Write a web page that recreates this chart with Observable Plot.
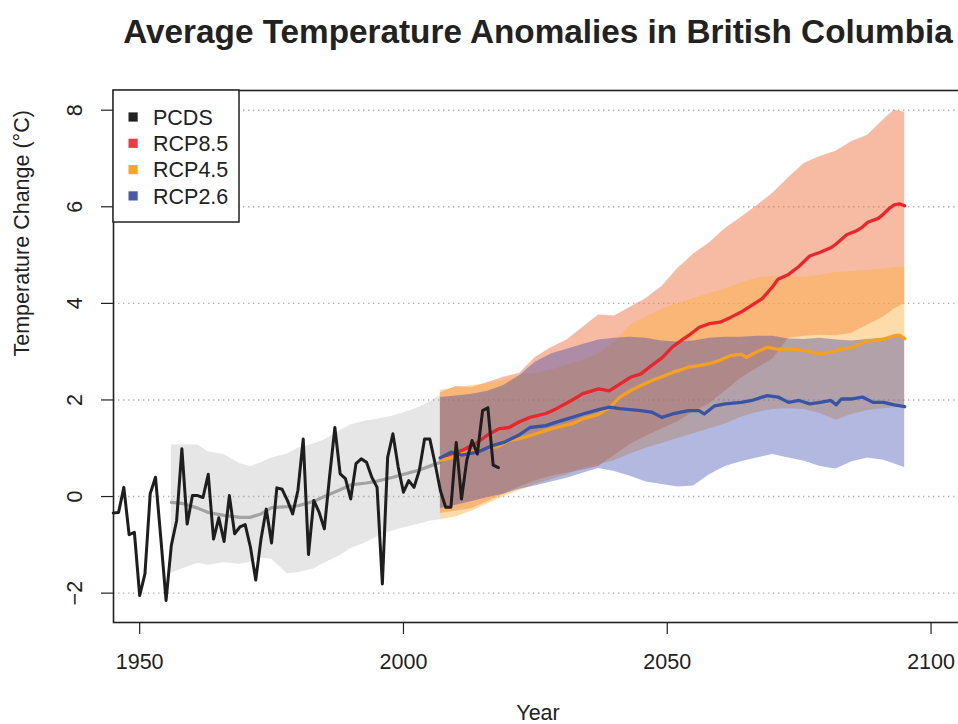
<!DOCTYPE html>
<html><head><meta charset="utf-8">
<script src="https://cdn.jsdelivr.net/npm/d3@7"></script>
<script src="https://cdn.jsdelivr.net/npm/@observablehq/plot@0.6"></script>
<style>
html,body{margin:0;padding:0;background:#fff;overflow:hidden;width:958px;height:724px;}
#chart svg{display:block;max-width:none !important;}
</style></head><body><div id="chart"></div>
<script>
// ---------- data ----------
const xTicks = [1950, 2000, 2050, 2100];
const yTicks = [-2, 0, 2, 4, 6, 8];

const pcdsYears = [1945,1946,1947,1948,1949,1950,1951,1952,1953,1954,1955,1956,1957,1958,1959,1960,1961,1962,1963,1964,1965,1966,1967,1968,1969,1970,1971,1972,1973,1974,1975,1976,1977,1978,1979,1980,1981,1982,1983,1984,1985,1986,1987,1988,1989,1990,1991,1992,1993,1994,1995,1996,1997,1998,1999,2000,2001,2002,2003,2004,2005,2006,2007,2008,2009,2010,2011,2012,2013,2014,2015,2016,2017,2018];
const pcdsValues = [-0.34,-0.33,0.19,-0.79,-0.74,-2.05,-1.60,0.06,0.40,-0.85,-2.15,-1.01,-0.50,0.99,-0.57,0.02,0.02,-0.02,0.46,-0.88,-0.44,-0.93,0.02,-0.77,-0.63,-0.58,-1.05,-1.73,-0.88,-0.26,-0.96,0.18,0.15,-0.08,-0.36,0.13,1.19,-1.20,-0.08,-0.32,-0.67,0.42,1.43,0.47,0.37,-0.05,0.68,0.78,0.71,0.40,0.19,-1.81,0.81,1.30,0.61,0.09,0.33,0.19,0.54,1.19,1.19,0.68,0.12,-0.22,-0.22,1.12,-0.05,0.75,1.16,0.88,1.78,1.84,0.65,0.60];

const histYears = [1956,1958,1961,1963,1966,1969,1971,1973,1975,1978,1980,1983,1985,1988,1990,1993,1995,1998,2000,2003,2005,2007];
const histUpper = [1.07,1.07,1.07,0.93,0.87,0.68,0.62,0.70,0.80,0.88,1.00,1.09,1.17,1.36,1.48,1.57,1.60,1.67,1.73,1.85,1.96,2.09];
const histLower = [-1.59,-1.50,-1.38,-1.42,-1.37,-1.40,-1.36,-1.28,-1.30,-1.60,-1.58,-1.50,-1.38,-1.22,-1.08,-0.95,-0.84,-0.71,-0.65,-0.57,-0.51,-0.48];
const histMean = [-0.12,-0.14,-0.24,-0.33,-0.39,-0.43,-0.43,-0.36,-0.23,-0.21,-0.19,-0.10,0.00,0.14,0.24,0.28,0.32,0.40,0.46,0.55,0.63,0.71];

const bandYears = [2007,2010,2013,2016,2019,2022,2025,2028,2031,2034,2037,2040,2043,2046,2049,2052,2055,2058,2061,2064,2067,2070,2073,2076,2079,2082,2085,2088,2091,2093,2095];
const rcp85Upper = [2.15,2.28,2.26,2.36,2.47,2.55,2.88,3.08,3.24,3.50,3.76,3.74,3.92,4.10,4.35,4.72,5.02,5.25,5.55,5.78,6.02,6.28,6.60,6.90,7.04,7.15,7.35,7.48,7.80,8.00,7.96];
const rcp85Lower = [-0.35,-0.30,-0.25,-0.10,0.05,0.20,0.32,0.42,0.48,0.55,0.62,0.85,1.08,1.25,1.40,1.55,1.75,1.92,2.18,2.45,2.65,2.85,3.28,3.32,3.34,3.33,3.38,3.55,3.72,3.88,4.00];
const rcp45Upper = [2.20,2.25,2.30,2.33,2.40,2.50,2.55,2.62,2.72,2.82,2.95,3.20,3.55,3.72,3.88,4.00,4.10,4.20,4.30,4.42,4.52,4.55,4.55,4.54,4.58,4.64,4.66,4.68,4.71,4.74,4.75];
const rcp45Lower = [-0.48,-0.42,-0.30,-0.15,0.00,0.12,0.25,0.35,0.45,0.58,0.66,0.74,0.88,1.00,1.10,1.20,1.30,1.40,1.50,1.64,1.74,1.80,1.82,1.80,1.72,1.58,1.70,1.78,1.82,1.84,1.85];
const rcp26Upper = [2.05,2.08,2.12,2.18,2.30,2.50,2.78,2.95,3.05,3.15,3.24,3.28,3.30,3.28,3.22,3.20,3.22,3.28,3.30,3.30,3.32,3.32,3.26,3.25,3.28,3.24,3.22,3.25,3.28,3.30,3.30];
const rcp26Lower = [-0.25,-0.18,-0.10,-0.02,0.05,0.15,0.22,0.30,0.38,0.48,0.58,0.52,0.42,0.30,0.25,0.20,0.22,0.45,0.62,0.72,0.80,0.87,0.80,0.73,0.62,0.57,0.72,0.80,0.75,0.68,0.60];

const rcp85Years = [2007,2009,2011,2014,2016,2018,2020,2022,2024,2027,2029,2032,2034,2037,2039,2041,2043,2045,2047,2049,2051,2053,2054,2056,2058,2060,2062,2064,2066,2068,2070,2071,2073,2075,2077,2079,2081,2082,2084,2086,2087,2088,2090,2091,2092,2093,2094,2095];
const rcp85Mean = [0.80,0.88,0.95,1.12,1.28,1.40,1.43,1.55,1.64,1.72,1.82,2.00,2.13,2.23,2.19,2.33,2.47,2.54,2.71,2.87,3.10,3.26,3.33,3.50,3.58,3.61,3.71,3.82,3.96,4.10,4.35,4.50,4.60,4.77,4.98,5.06,5.15,5.23,5.42,5.51,5.58,5.68,5.76,5.85,5.96,6.04,6.06,6.02];
const rcp45Years = [2007,2009,2011,2014,2016,2018,2020,2022,2024,2027,2029,2032,2034,2037,2039,2041,2043,2045,2047,2049,2051,2053,2054,2056,2058,2060,2062,2064,2065,2067,2069,2071,2073,2076,2079,2082,2085,2088,2091,2093,2094,2095];
const rcp45Mean = [0.75,0.80,0.88,0.95,1.00,1.04,1.16,1.20,1.26,1.37,1.43,1.51,1.61,1.70,1.84,2.06,2.19,2.30,2.40,2.48,2.57,2.64,2.68,2.71,2.75,2.82,2.92,2.95,2.88,3.00,3.09,3.05,3.06,3.02,2.95,3.02,3.09,3.22,3.26,3.33,3.34,3.27];
const rcp26Years = [2007,2009,2011,2014,2017,2019,2022,2024,2027,2029,2032,2034,2037,2039,2041,2045,2047,2049,2051,2054,2056,2057,2059,2061,2064,2066,2068,2069,2071,2073,2075,2077,2079,2081,2082,2083,2085,2087,2089,2091,2093,2095];
const rcp26Mean = [0.80,0.92,0.86,0.92,1.06,1.12,1.28,1.43,1.47,1.54,1.64,1.71,1.80,1.85,1.82,1.78,1.75,1.64,1.71,1.78,1.78,1.71,1.88,1.92,1.95,1.99,2.06,2.09,2.06,1.95,1.99,1.92,1.95,1.99,1.90,2.02,2.02,2.06,1.95,1.95,1.90,1.86];

const legendLabels = ["PCDS", "RCP8.5", "RCP4.5", "RCP2.6"];
const legendColors = ["#222222", "#ee3b42", "#f7a52a", "#4a5aa8"];

// ---------- tables ----------
const pcds = pcdsYears.map((year, i) => ({year, v: pcdsValues[i]}));
const hist = histYears.map((year, i) => ({year, lo: histLower[i], hi: histUpper[i], mean: histMean[i]}));
const bands = bandYears.map((year, i) => ({
  year,
  lo85: rcp85Lower[i], hi85: rcp85Upper[i],
  lo45: rcp45Lower[i], hi45: rcp45Upper[i],
  lo26: rcp26Lower[i], hi26: rcp26Upper[i]
}));
const m85 = rcp85Years.map((year, i) => ({year, v: rcp85Mean[i]}));
const m45 = rcp45Years.map((year, i) => ({year, v: rcp45Mean[i]}));
const m26 = rcp26Years.map((year, i) => ({year, v: rcp26Mean[i]}));

const FS = 21.5;

function legend(index, scales, values, dims) {
  const g = d3.create("svg:g");
  const x0 = dims.marginLeft, y0 = dims.marginTop;
  g.append("rect").attr("x", x0).attr("y", y0).attr("width", 126).attr("height", 132)
    .attr("fill", "white").attr("stroke", "#222").attr("stroke-width", 1.5);
  legendLabels.forEach((lab, i) => {
    const cy = y0 + 27 + 26.3 * i;
    g.append("rect").attr("x", x0 + 15.5).attr("y", cy - 4.6).attr("width", 9.2).attr("height", 9.2)
      .attr("fill", legendColors[i]);
    g.append("text").attr("x", x0 + 40).attr("y", cy + 7.7).attr("font-size", FS)
      .attr("text-anchor", "start").attr("fill", "#222").text(lab);
  });
  return g.node();
}

const chart = Plot.plot({
  width: 972,
  height: 724,
  marginLeft: 113,
  marginRight: 10,
  marginTop: 90,
  marginBottom: 102,
  style: {fontFamily: "'Liberation Sans', Arial, Helvetica, sans-serif", fontSize: FS + "px", color: "#222", background: "white", maxWidth: "none"},
  x: {domain: [1945.04, 2105.96], axis: null},
  y: {domain: [-2.608, 8.408], axis: null},
  marks: [
    Plot.areaY(hist, {x: "year", y1: "lo", y2: "hi", fill: "#e6e6e6"}),
    Plot.ruleY(yTicks, {stroke: "#b0b0b0", strokeWidth: 1.4, strokeDasharray: "1.4,3.6"}),
    Plot.lineY(hist, {x: "year", y: "mean", stroke: "#a3a3a3", strokeWidth: 3.2}),
    Plot.areaY(bands, {x: "year", y1: "lo85", y2: "hi85", fill: "#ef7747", fillOpacity: 0.5}),
    Plot.areaY(bands, {x: "year", y1: "lo45", y2: "hi45", fill: "#fbb243", fillOpacity: 0.45}),
    Plot.areaY(bands, {x: "year", y1: "lo26", y2: "hi26", fill: "#2c3aa9", fillOpacity: 0.36}),
    Plot.lineY(m85, {x: "year", y: "v", stroke: "#e8262c", strokeWidth: 3.3}),
    Plot.lineY(m45, {x: "year", y: "v", stroke: "#f6a11d", strokeWidth: 3.3}),
    Plot.lineY(m26, {x: "year", y: "v", stroke: "#3a54a5", strokeWidth: 3.3}),
    Plot.lineY(pcds, {x: "year", y: "v", stroke: "#1e1e1e", strokeWidth: 3}),
    Plot.frame({stroke: "#222", strokeWidth: 1.6}),
    Plot.axisX(xTicks, {tickSize: 12, tickPadding: 19, fontSize: FS, tickFormat: "d", label: null, strokeWidth: 1.2}),
    Plot.axisY(yTicks, {tickSize: 12, tickPadding: 20, tickRotate: -90, fontSize: FS, label: null, strokeWidth: 1.2}),
    legend,
    Plot.text(["Average Temperature Anomalies in British Columbia"], {frameAnchor: "top", dy: -48, lineAnchor: "bottom", fontSize: 33.3, fontWeight: "bold", fill: "#222"}),
    Plot.text(["Year"], {frameAnchor: "bottom", dy: 97, lineAnchor: "bottom", fontSize: FS, fill: "#222"}),
    Plot.text(["Temperature Change (°C)"], {frameAnchor: "left", dx: -85, rotate: -90, lineAnchor: "bottom", fontSize: FS, fill: "#222"})
  ]
});
chart.style.maxWidth = "none";
document.getElementById("chart").append(chart);
</script></body></html>
